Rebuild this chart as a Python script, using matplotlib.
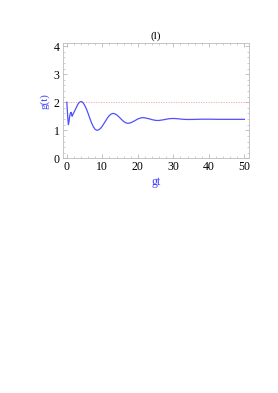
import matplotlib
matplotlib.use("Agg")
import matplotlib.pyplot as plt
from matplotlib.ticker import MultipleLocator

t = [0.0, 0.15, 0.3, 0.45, 0.6, 0.8, 1.0, 1.2, 1.35, 1.5, 1.7, 1.85, 2.1, 2.4, 2.7, 3.0, 3.3, 3.6,
     3.9, 4.2, 4.5, 5.0, 5.5, 6.0, 6.5, 7.0, 7.5, 8.0, 8.5, 9.0, 9.5, 10.0, 10.5, 11.0, 11.5,
     12.0, 12.5, 13.0, 13.5, 14.0, 14.5, 15.0, 15.5, 16.0, 16.5, 17.0, 17.5, 18.0, 19.0,
     20.0, 21.0, 21.5, 22.0, 23.0, 24.0, 25.0, 25.5, 26.0, 27.0, 28.0, 29.0, 30.0, 31.0,
     32.0, 33.0, 34.0, 36.0, 38.0, 40.0, 43.0, 46.0, 50.0]
g = [2.00, 1.70, 1.40, 1.20, 1.30, 1.50, 1.60, 1.64, 1.58, 1.50, 1.56, 1.60, 1.66, 1.74, 1.82,
     1.90, 1.96, 2.00, 2.02, 2.02, 1.99, 1.90, 1.765, 1.60, 1.42, 1.255, 1.12, 1.03, 1.00,
     1.018, 1.07, 1.15, 1.25, 1.35, 1.45, 1.53, 1.58, 1.60, 1.588, 1.553, 1.50, 1.438,
     1.373, 1.316, 1.273, 1.252, 1.252, 1.268, 1.331, 1.404, 1.447, 1.45, 1.443, 1.415,
     1.379, 1.353, 1.35, 1.352, 1.370, 1.395, 1.415, 1.42, 1.414, 1.40, 1.39, 1.385,
     1.388, 1.395, 1.395, 1.39, 1.39, 1.39]
ref_level = 2.0

x_ticks = [0, 10, 20, 30, 40, 50]
y_ticks = [0, 1, 2, 3, 4]

plt.rcParams['font.family'] = ['Liberation Serif', 'DejaVu Serif']

fig = plt.figure(figsize=(2.78, 3.93), dpi=100)
ax = fig.add_axes([0.225, 0.597, 0.672, 0.293])

ax.axhline(ref_level, color='#f4a0a0', lw=0.6, ls=(0, (1.5, 1.5)))
ax.plot(t, g, color='#5050ff', lw=0.9)

ax.set_xlim(-1.2, 51.4)
ax.set_ylim(0, 4.1)
ax.set_xticks(x_ticks)
ax.set_yticks(y_ticks)
ax.xaxis.set_minor_locator(MultipleLocator(2))
ax.yaxis.set_minor_locator(MultipleLocator(0.2))
ax.tick_params(which='both', direction='in', top=True, right=True, color='#aaaaaa',
               labelsize=8.5, pad=2)
ax.tick_params(which='major', length=3, width=0.5)
ax.tick_params(which='minor', length=1.5, width=0.4)
for s in ax.spines.values():
    s.set_color('#bbbbbb')
    s.set_linewidth(0.6)

ax.set_title('(l)', fontsize=8, pad=3)
ax.set_xlabel('gt', color='#3a3aff', fontsize=8.5, labelpad=2)
ax.set_ylabel('g(t)', color='#3a3aff', fontsize=8, labelpad=3)

fig.savefig('out.png', dpi=100)
